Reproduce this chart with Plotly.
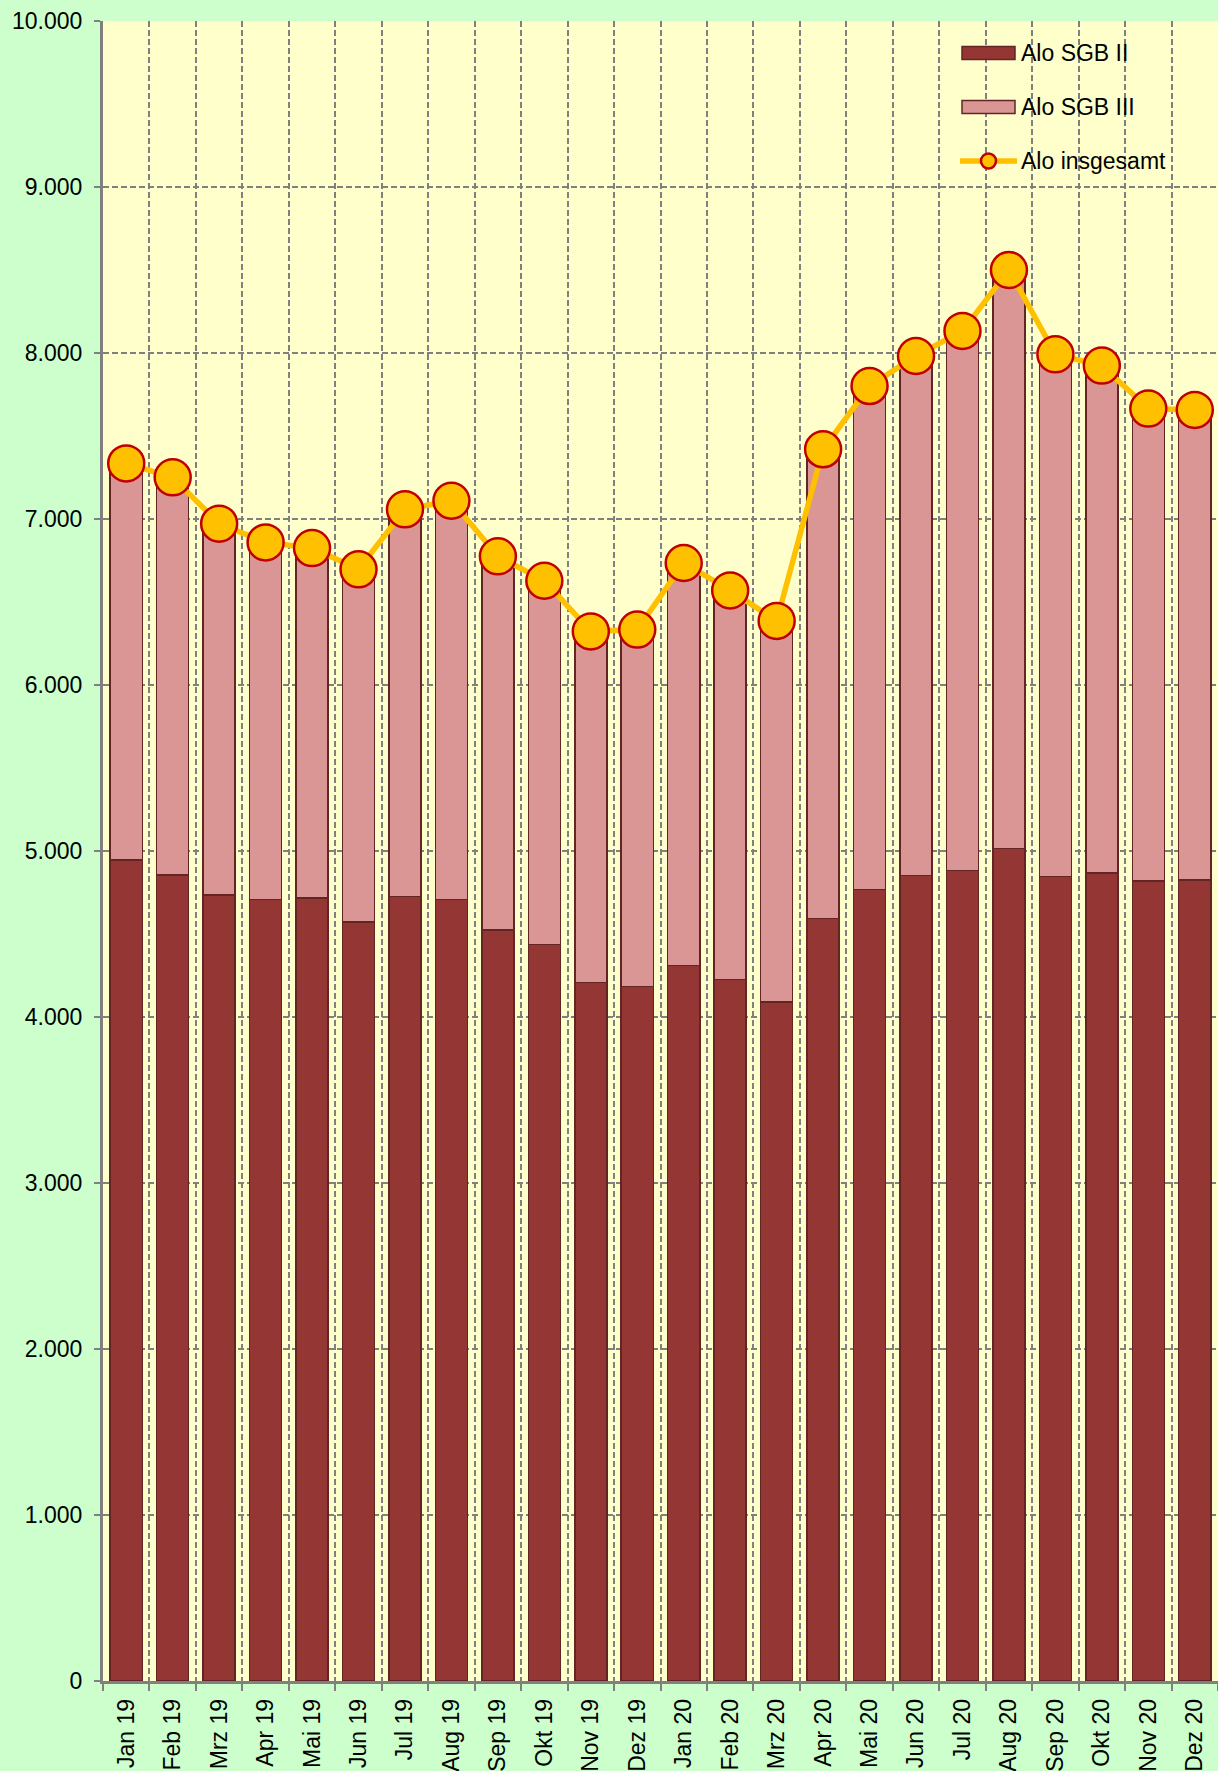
import plotly.graph_objects as go

months = ["Jan 19", "Feb 19", "Mrz 19", "Apr 19", "Mai 19", "Jun 19", "Jul 19", "Aug 19",
          "Sep 19", "Okt 19", "Nov 19", "Dez 19", "Jan 20", "Feb 20", "Mrz 20", "Apr 20",
          "Mai 20", "Jun 20", "Jul 20", "Aug 20", "Sep 20", "Okt 20", "Nov 20", "Dez 20"]

alo_sgb2 = [4946, 4855, 4735, 4709, 4717, 4572, 4725, 4709, 4524, 4438, 4207, 4183,
            4309, 4227, 4090, 4592, 4767, 4851, 4884, 5014, 4847, 4866, 4819, 4825]

alo_total = [7335, 7251, 6972, 6859, 6825, 6697, 7058, 7110, 6775, 6628, 6323, 6334,
             6735, 6570, 6386, 7420, 7801, 7982, 8133, 8500, 7992, 7924, 7665, 7657]

alo_sgb3 = [t - s for t, s in zip(alo_total, alo_sgb2)]

y_ticks = list(range(0, 10001, 1000))

W, H = 1218, 1771
ML, MR, MT, MB = 103, 0, 21, 90
PW, PH = W - ML - MR, H - MT - MB

FONT = "Liberation Sans, Arial, sans-serif"
C_SGB2 = "#943634"
C_SGB3 = "#D99694"
C_EDGE = "#632523"
C_LINE = "#FFC000"
C_MRK_EDGE = "#C00000"
GRID = "#808080"

fig = go.Figure()
fig.add_trace(go.Bar(x=months, y=alo_sgb2, name="Alo SGB II",
                     marker=dict(color=C_SGB2, line=dict(color=C_EDGE, width=1.5))))
fig.add_trace(go.Bar(x=months, y=alo_sgb3, name="Alo SGB III",
                     marker=dict(color=C_SGB3, line=dict(color=C_EDGE, width=1.5))))
fig.add_trace(go.Scatter(x=months, y=alo_total, name="Alo insgesamt", mode="lines+markers",
                         line=dict(color=C_LINE, width=5.5),
                         marker=dict(size=36, color=C_LINE,
                                     line=dict(color=C_MRK_EDGE, width=2.5))))


def px2x(px):
    return (px - ML) / PW


def py2y(py):
    return (H - MB - py) / PH


shapes = []
annotations = []
legend_items = [("Alo SGB II", 53, "bar", C_SGB2), ("Alo SGB III", 107, "bar", C_SGB3),
                ("Alo insgesamt", 161, "line", C_LINE)]
for label, cy, kind, col in legend_items:
    if kind == "bar":
        shapes.append(dict(type="rect", xref="paper", yref="paper",
                           x0=px2x(962), x1=px2x(1015), y0=py2y(cy + 6.5), y1=py2y(cy - 6.5),
                           fillcolor=col, line=dict(color=C_EDGE, width=1.5)))
    else:
        shapes.append(dict(type="line", xref="paper", yref="paper",
                           x0=px2x(960), x1=px2x(1017), y0=py2y(cy), y1=py2y(cy),
                           line=dict(color=col, width=5.5)))
        shapes.append(dict(type="circle", xref="paper", yref="paper",
                           x0=px2x(988.5 - 7.5), x1=px2x(988.5 + 7.5),
                           y0=py2y(cy + 7.5), y1=py2y(cy - 7.5),
                           fillcolor=col, line=dict(color=C_MRK_EDGE, width=2.5)))
    annotations.append(dict(text=label, xref="paper", yref="paper", x=px2x(1019), y=py2y(cy),
                            xanchor="left", yanchor="middle", showarrow=False,
                            font=dict(family=FONT, size=23, color="black")))

fig.update_layout(
    width=W, height=H,
    margin=dict(l=ML, r=MR, t=MT, b=MB, pad=0),
    paper_bgcolor="#CCFFCC",
    plot_bgcolor="#FFFFCC",
    barmode="stack",
    bargap=0.31,
    showlegend=False,
    separators=",.",
    font=dict(family=FONT, size=23, color="black"),
    shapes=shapes,
    annotations=annotations,
)

fig.update_xaxes(
    type="category",
    range=[-0.5, len(months) - 0.5],
    tickangle=-90,
    tickson="boundaries",
    ticks="outside", ticklen=7, tickwidth=2, tickcolor=GRID,
    showgrid=True, gridcolor=GRID, gridwidth=2, griddash="6px,3px",
    showline=True, linecolor=GRID, linewidth=2.5,
    tickfont=dict(family=FONT, size=23, color="black"),
    ticklabelstandoff=6,
    automargin=False,
)
fig.update_yaxes(
    range=[0, 10000],
    tickvals=y_ticks,
    tickformat=",d",
    ticks="outside", ticklen=6, tickwidth=2, tickcolor=GRID,
    showgrid=True, gridcolor=GRID, gridwidth=2, griddash="6px,3px",
    showline=True, linecolor=GRID, linewidth=3,
    zeroline=False,
    tickfont=dict(family=FONT, size=23, color="black"),
    ticklabelstandoff=7,
    automargin=False,
)

fig.write_html("out.html",
               config={"displayModeBar": False},
               post_script="document.body.style.margin='0';document.body.style.overflow='hidden';")
